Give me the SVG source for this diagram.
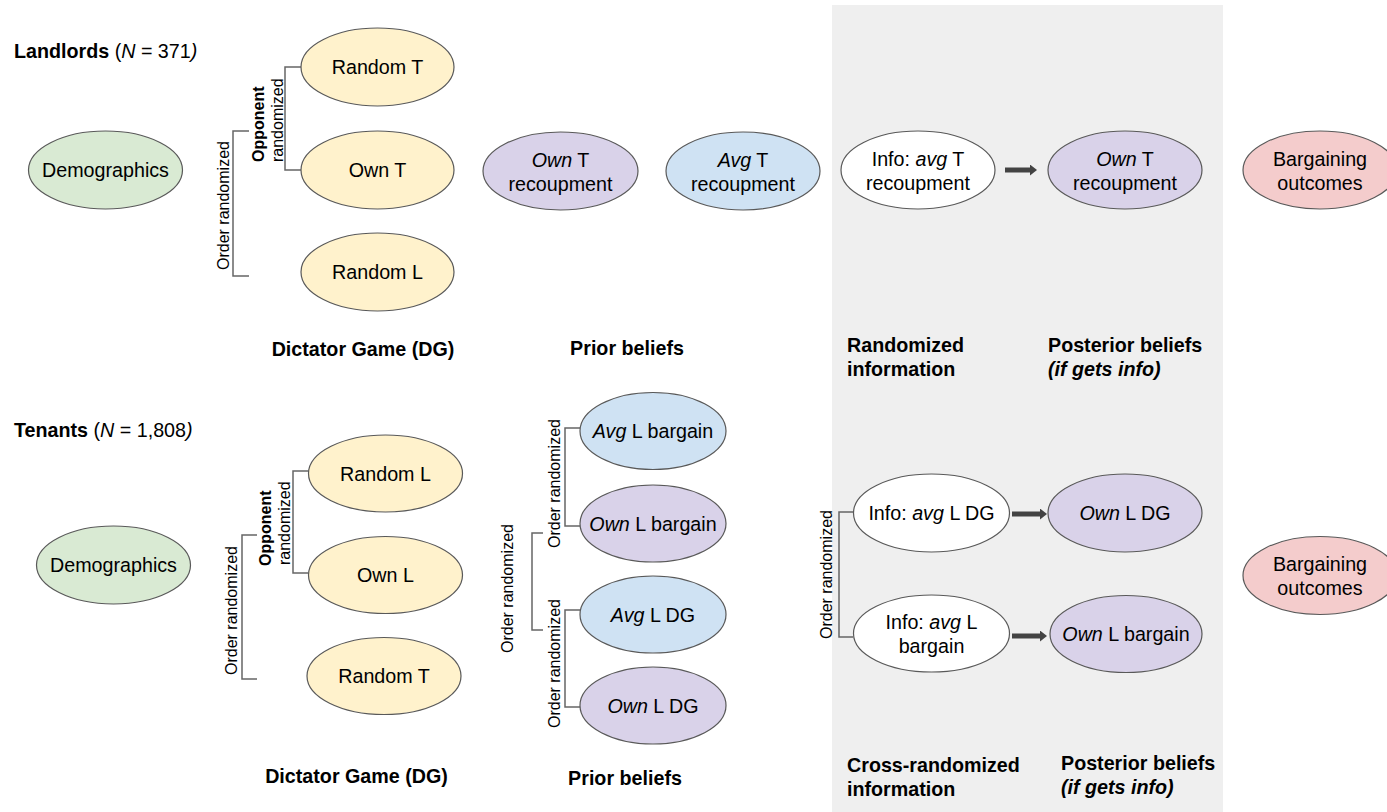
<svg xmlns="http://www.w3.org/2000/svg" width="1387" height="812" viewBox="0 0 1387 812">
<style>
text{font-family:"Liberation Sans",Arial,sans-serif;fill:#000}
.n{font-size:19.7px;text-anchor:middle}
.h{font-size:19.7px;font-weight:bold}
.hm{text-anchor:middle}
.r{font-size:16px}
.b{font-weight:bold}
.i{font-style:italic}
ellipse{stroke:#595959;stroke-width:1.2}
.gr{fill:#d9ead3}.ye{fill:#fff2cc}.pu{fill:#d9d2e9}.bl{fill:#cfe2f3}.pk{fill:#f4cccc}.wh{fill:#ffffff}
.br{fill:none;stroke:#666;stroke-width:1.5}
.ar{stroke:#434343;stroke-width:5;marker-end:url(#ah)}
</style>
<defs>
<marker id="ah" markerUnits="userSpaceOnUse" markerWidth="7" markerHeight="11" viewBox="0 0 7 11" refX="0" refY="5.5" orient="auto"><path d="M0,0 L7,5.5 L0,11z" fill="#434343"/></marker>
</defs>
<rect x="832" y="5" width="391" height="807" fill="#efefef"/>

<g id="labels">
<text class="h" x="14" y="58">Landlords<tspan font-weight="normal"> (</tspan><tspan font-weight="normal" class="i">N</tspan><tspan font-weight="normal"> = 371</tspan><tspan font-weight="normal" class="i">)</tspan></text>
<text class="h" x="14" y="437">Tenants<tspan font-weight="normal"> (</tspan><tspan font-weight="normal" class="i">N</tspan><tspan font-weight="normal"> = 1,808</tspan><tspan font-weight="normal" class="i">)</tspan></text>
<text class="h hm" x="363" y="355.5">Dictator Game (DG)</text>
<text class="h hm" x="627" y="355">Prior beliefs</text>
<text class="h" x="847" y="351.5">Randomized</text>
<text class="h" x="847" y="376">information</text>
<text class="h" x="1048" y="351.5">Posterior beliefs</text>
<text class="h i" x="1048" y="376">(if gets info)</text>
<text class="h hm" x="356.5" y="783">Dictator Game (DG)</text>
<text class="h hm" x="625" y="785">Prior beliefs</text>
<text class="h" x="847" y="772">Cross-randomized</text>
<text class="h" x="847" y="796">information</text>
<text class="h" x="1061" y="770">Posterior beliefs</text>
<text class="h i" x="1061" y="794">(if gets info)</text>
<text class="r" transform="translate(229,270) rotate(-90)">Order randomized</text>
<text class="r b" transform="translate(263.5,162) rotate(-90)">Opponent</text>
<text class="r" transform="translate(283,162) rotate(-90)">randomized</text>
<text class="r" transform="translate(237,675) rotate(-90)">Order randomized</text>
<text class="r b" transform="translate(271,566) rotate(-90)">Opponent</text>
<text class="r" transform="translate(290,565) rotate(-90)">randomized</text>
<text class="r" transform="translate(560,548) rotate(-90)">Order randomized</text>
<text class="r" transform="translate(560,728) rotate(-90)">Order randomized</text>
<text class="r" transform="translate(513,653) rotate(-90)">Order randomized</text>
<text class="r" transform="translate(832,639) rotate(-90)">Order randomized</text>
</g>

<g id="connectors">
<path class="br" d="M301,67 H285 V170 H301"/>
<path class="br" d="M249,131 H233 V276 H249"/>
<path class="br" d="M308,471 H293 V573 H308"/>
<path class="br" d="M257,535 H242 V679 H257"/>
<path class="br" d="M580,428 H565 V526 H580"/>
<path class="br" d="M580,610 H565 V707 H580"/>
<path class="br" d="M543,533 H532 V630 H543"/>
<path class="br" d="M853,512 H839 V637 H853"/>
<line class="ar" x1="1005" y1="170" x2="1030" y2="170"/>
<line class="ar" x1="1012" y1="514" x2="1040" y2="514"/>
<line class="ar" x1="1012" y1="636" x2="1040" y2="636"/>
</g>

<g id="L_demographics"><ellipse class="gr" cx="105.5" cy="170" rx="77" ry="39"/><text class="n" x="105.5" y="177">Demographics</text></g>
<g id="L_randomT"><ellipse class="ye" cx="377.5" cy="67" rx="76.5" ry="39"/><text class="n" x="377.5" y="74">Random T</text></g>
<g id="L_ownT"><ellipse class="ye" cx="377.5" cy="170" rx="76.5" ry="39"/><text class="n" x="377.5" y="177">Own T</text></g>
<g id="L_randomL"><ellipse class="ye" cx="377.5" cy="272" rx="76.5" ry="39"/><text class="n" x="377.5" y="279">Random L</text></g>
<g id="L_prior_own"><ellipse class="pu" cx="560.5" cy="171" rx="77.5" ry="39"/><text class="n" x="560.5" y="166.5"><tspan class="i">Own</tspan> T</text><text class="n" x="560.5" y="190.5">recoupment</text></g>
<g id="L_prior_avg"><ellipse class="bl" cx="743" cy="171" rx="77" ry="39"/><text class="n" x="743" y="166.5"><tspan class="i">Avg</tspan> T</text><text class="n" x="743" y="190.5">recoupment</text></g>
<g id="L_info"><ellipse class="wh" cx="918" cy="170" rx="77" ry="39"/><text class="n" x="918" y="165.5">Info: <tspan class="i">avg</tspan> T</text><text class="n" x="918" y="189.5">recoupment</text></g>
<g id="L_post"><ellipse class="pu" cx="1125" cy="170" rx="77" ry="39"/><text class="n" x="1125" y="165.5"><tspan class="i">Own</tspan> T</text><text class="n" x="1125" y="189.5">recoupment</text></g>
<g id="L_bargain"><ellipse class="pk" cx="1320" cy="170" rx="77" ry="39"/><text class="n" x="1320" y="165.5">Bargaining</text><text class="n" x="1320" y="189.5">outcomes</text></g>

<g id="T_demographics"><ellipse class="gr" cx="113.5" cy="565" rx="77" ry="39"/><text class="n" x="113.5" y="572">Demographics</text></g>
<g id="T_randomL"><ellipse class="ye" cx="385.5" cy="473.5" rx="77" ry="38.5"/><text class="n" x="385.5" y="480.5">Random L</text></g>
<g id="T_ownL"><ellipse class="ye" cx="385.5" cy="575" rx="77" ry="38.5"/><text class="n" x="385.5" y="582">Own L</text></g>
<g id="T_randomT"><ellipse class="ye" cx="384" cy="676" rx="77" ry="38.5"/><text class="n" x="384" y="683">Random T</text></g>
<g id="T_avg_bargain"><ellipse class="bl" cx="653" cy="431" rx="73" ry="38.5"/><text class="n" x="653" y="438"><tspan class="i">Avg</tspan> L bargain</text></g>
<g id="T_own_bargain"><ellipse class="pu" cx="653" cy="523.5" rx="73" ry="38.5"/><text class="n" x="653" y="530.5"><tspan class="i">Own</tspan> L bargain</text></g>
<g id="T_avg_dg"><ellipse class="bl" cx="653" cy="614.5" rx="73" ry="38.5"/><text class="n" x="653" y="621.5"><tspan class="i">Avg</tspan> L DG</text></g>
<g id="T_own_dg"><ellipse class="pu" cx="653" cy="705.5" rx="73" ry="38.5"/><text class="n" x="653" y="712.5"><tspan class="i">Own</tspan> L DG</text></g>
<g id="T_info_dg"><ellipse class="wh" cx="931.5" cy="513" rx="78" ry="39"/><text class="n" x="931.5" y="520">Info: <tspan class="i">avg</tspan> L DG</text></g>
<g id="T_info_bargain"><ellipse class="wh" cx="931.5" cy="633.5" rx="78" ry="38.5"/><text class="n" x="931.5" y="629">Info: <tspan class="i">avg</tspan> L</text><text class="n" x="931.5" y="653">bargain</text></g>
<g id="T_post_dg"><ellipse class="pu" cx="1125" cy="513" rx="77" ry="39"/><text class="n" x="1125" y="520"><tspan class="i">Own</tspan> L DG</text></g>
<g id="T_post_bargain"><ellipse class="pu" cx="1126" cy="634" rx="76" ry="38.5"/><text class="n" x="1126" y="641"><tspan class="i">Own</tspan> L bargain</text></g>
<g id="T_bargain"><ellipse class="pk" cx="1320" cy="575.5" rx="77" ry="39"/><text class="n" x="1320" y="571">Bargaining</text><text class="n" x="1320" y="595">outcomes</text></g>
</svg>
